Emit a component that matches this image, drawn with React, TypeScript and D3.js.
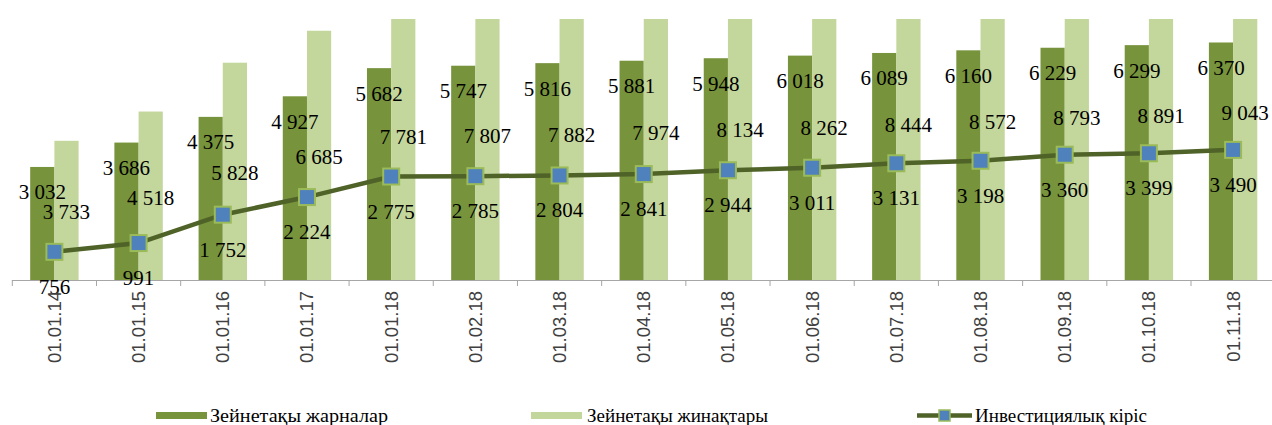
import React from "react";
import * as d3 from "d3";

const categories = ["01.01.14","01.01.15","01.01.16","01.01.17","01.01.18","01.02.18","01.03.18","01.04.18","01.05.18","01.06.18","01.07.18","01.08.18","01.09.18","01.10.18","01.11.18"];
const contributions = [3032,3686,4375,4927,5682,5747,5816,5881,5948,6018,6089,6160,6229,6299,6370];
const savings = [3733,4518,5828,6685,7781,7807,7882,7974,8134,8262,8444,8572,8793,8891,9043];
const income = [756,991,1752,2224,2775,2785,2804,2841,2944,3011,3131,3198,3360,3399,3490];
const seriesNames = ["Зейнетақы  жарналар", "Зейнетақы  жинақтары", "Инвестициялық  кіріс"];

const W = 1272, H = 425;
const DARK = "#77933C", LIGHT = "#C3D69B", LINE = "#4F6228", MARK = "#4F81BD", MARK_STROKE = "#9BBB59";
const SERIF = "Liberation Serif, Times New Roman, Tinos, DejaVu Serif, serif";
const fmt = (v: number) => d3.format(",")(v).replace(/,/g, " ");

export default function App() {
  const plotTop = 19, base = 280;
  const x = d3.scaleBand<string>().domain(categories).range([12.3, 1275.2]).paddingInner(0).paddingOuter(0);
  const y = d3.scaleLinear().domain([0, 7000]).range([base, plotTop]);
  const bw = 24.2;
  const cx = (c: string) => (x(c) as number) + x.bandwidth() / 2;
  const line = d3.line<number>().x((_, i) => cx(categories[i])).y(v => y(v));

  return (
    <svg width={W} height={H} style={{ position: "absolute", left: 0, top: 0, background: "#fff" }}>
      <defs>
        <clipPath id="plot"><rect x={0} y={plotTop} width={W} height={base - plotTop} /></clipPath>
      </defs>
      <g clipPath="url(#plot)">
        {categories.map((c, i) => (
          <g key={c}>
            <rect x={cx(c) - bw} y={y(contributions[i])} width={bw} height={base - y(contributions[i])} fill={DARK} />
            <rect x={cx(c)} y={y(savings[i])} width={bw} height={base - y(savings[i])} fill={LIGHT} />
          </g>
        ))}
      </g>
      <line x1={12} x2={W} y1={base + 0.5} y2={base + 0.5} stroke="#A6A6A6" strokeWidth={1} />
      {categories.map((c) => (
        <line key={"t" + c} x1={(x(c) as number)} x2={(x(c) as number)} y1={base} y2={base + 6} stroke="#A6A6A6" />
      ))}
      <path d={line(income) as string} fill="none" stroke={LINE} strokeWidth={4.5} />
      {categories.map((c, i) => (
        <rect key={"m" + c} x={cx(c) - 8} y={y(income[i]) - 8} width={16} height={16} fill={MARK} stroke={MARK_STROKE} strokeWidth={2} />
      ))}
      <g style={{ fontFamily: SERIF, fontSize: "21px" }} fill="#000" textAnchor="middle">
        {categories.map((c, i) => (
          <g key={"l" + c}>
            <text x={cx(c) - bw / 2} y={y(contributions[i]) + 25.5} dominantBaseline="central">{fmt(contributions[i])}</text>
            <text x={cx(c) + bw / 2} y={(base + y(savings[i])) / 2 + 2} dominantBaseline="central">{fmt(savings[i])}</text>
            <text x={cx(c)} y={y(income[i]) + 35} dominantBaseline="central">{fmt(income[i])}</text>
          </g>
        ))}
      </g>
      {categories.map((c) => (
        <text key={"x" + c} transform={`translate(${cx(c)},${base + 11}) rotate(-90)`} textAnchor="end" dominantBaseline="central"
          style={{ fontFamily: "Liberation Sans, Arial, sans-serif", fontSize: "18.5px" }} fill="#404040">{c}</text>
      ))}
      <g style={{ fontFamily: SERIF, fontSize: "18px", whiteSpace: "pre" }} fill="#000">
        <rect x={156} y={412} width={51} height={7} fill={DARK} />
        <text x={210} y={422} textLength={178} lengthAdjust="spacingAndGlyphs">{seriesNames[0]}</text>
        <rect x={531} y={412} width={51} height={7} fill={LIGHT} />
        <text x={587} y={422} textLength={181} lengthAdjust="spacingAndGlyphs">{seriesNames[1]}</text>
        <line x1={917} x2={972} y1={415.5} y2={415.5} stroke={LINE} strokeWidth={4.5} />
        <rect x={939} y={410} width={11} height={11} fill={MARK} stroke={MARK_STROKE} strokeWidth={1.5} />
        <text x={975} y={422} textLength={172} lengthAdjust="spacingAndGlyphs">{seriesNames[2]}</text>
      </g>
    </svg>
  );
}
